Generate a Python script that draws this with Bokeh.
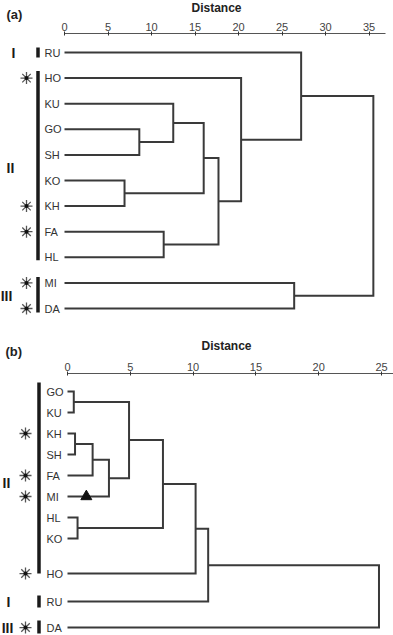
from bokeh.plotting import figure
from bokeh.models import Range1d, LinearAxis, FixedTicker
from bokeh.layouts import column
from bokeh.embed import file_html
from bokeh.resources import INLINE
from bokeh.core.properties import value

# ---------------- data: panel (a) ----------------
leaves_a = ["RU", "HO", "KU", "GO", "SH", "KO", "KH", "FA", "HL", "MI", "DA"]
merge_names_a = ["a1", "a2", "a3", "a4", "a5", "a6", "a7", "a8", "a9", "a10"]
merge_left_a = ["GO", "KO", "FA", "KU", "a4", "a5", "HO", "RU", "MI", "a8"]
merge_right_a = ["SH", "KH", "HL", "a1", "a2", "a3", "a6", "a7", "DA", "a9"]
merge_dist_a = [8.6, 6.9, 11.4, 12.5, 16.0, 17.7, 20.3, 27.2, 26.4, 35.5]
starred_a = ["HO", "KH", "FA", "MI", "DA"]
group_labels_a = ["I", "II", "III"]
group_first_a = ["RU", "HO", "MI"]
group_last_a = ["RU", "HL", "DA"]
ticks_a = [0, 5, 10, 15, 20, 25, 30, 35]

# ---------------- data: panel (b) ----------------
leaves_b = ["GO", "KU", "KH", "SH", "FA", "MI", "HL", "KO", "HO", "RU", "DA"]
merge_names_b = ["b1", "b2", "b3", "b4", "b5", "b6", "b7", "b8", "b9", "b10"]
merge_left_b = ["GO", "KH", "HL", "b2", "b4", "b1", "b6", "b7", "b8", "b9"]
merge_right_b = ["KU", "SH", "KO", "FA", "MI", "b5", "b3", "HO", "RU", "DA"]
merge_dist_b = [0.5, 0.6, 0.8, 2.0, 3.3, 4.9, 7.6, 10.2, 11.2, 24.8]
starred_b = ["KH", "FA", "MI", "HO", "DA"]
triangle_leaf_b = ["MI"]
triangle_dist_b = [1.5]
group_labels_b = ["II", "I", "III"]
group_first_b = ["GO", "RU", "DA"]
group_last_b = ["HO", "RU", "DA"]
ticks_b = [0, 5, 10, 15, 20, 25]

axis_title = "Distance"

# ---------------- layout (window pixel geometry) ----------------
FONT = value("Liberation Sans")
LINE = "#3a3a3a"
TXT = "#333333"
W = 393


def slots_with_gaps(leaves, extra):
    out, pos = [], 0.0
    for i, lf in enumerate(leaves):
        if i > 0:
            pos += 1.0 + extra.get(lf, 0.0)
        out.append(pos)
    return out


def make_panel(tag, leaves, slots, names, lefts, rights, dists, ticks,
               starred, g_labels, g_first, g_last, geo, tri_leaf=(), tri_dist=()):
    top, height = geo["top"], geo["height"]
    slot0, spx, d0, kx = geo["slot0"], geo["spx"], geo["d0"], geo["kx"]
    X = lambda px: (px - d0) / kx
    Y = lambda py: (py - slot0) / spx

    p = figure(width=W, height=height, output_backend="svg", toolbar_location=None,
               x_axis_location=None, y_axis_location=None,
               x_range=Range1d(X(0), X(W)),
               y_range=Range1d(Y(top + height), Y(top)),
               min_border=0)
    p.outline_line_color = None
    p.grid.visible = False
    p.background_fill_color = "white"
    p.border_fill_color = "white"

    ax = LinearAxis(ticker=FixedTicker(ticks=ticks), bounds=(0, X(geo["axis_end"])),
                    fixed_location=Y(geo["axis_y"]))
    ax.major_label_text_font = "Liberation Sans"
    ax.major_label_text_font_size = "11px"
    ax.major_label_text_color = "#444444"
    ax.major_label_standoff = 1
    ax.major_tick_out = 2
    ax.major_tick_in = 2
    ax.minor_tick_line_color = None
    ax.axis_line_color = "#555555"
    ax.major_tick_line_color = "#333333"
    ax.axis_line_width = 1
    p.add_layout(ax, "above")

    # axis title and panel tag as text
    p.text(x=[X(geo["title_x"])], y=[Y(geo["title_y"])], text=[axis_title],
           text_font=FONT, text_font_style="bold", text_font_size="12px",
           text_color="#222222", text_baseline="middle", text_align="center")
    p.text(x=[X(geo["tag_x"])], y=[Y(geo["tag_y"])], text=[tag],
           text_font=FONT, text_font_style="bold", text_font_size="13px",
           text_color="#222222", text_baseline="middle", text_align="left")

    # dendrogram links
    ypos = {lf: s for lf, s in zip(leaves, slots)}
    hpos = {lf: 0.0 for lf in leaves}
    xs, ys = [], []
    for nm, l, r, h in zip(names, lefts, rights, dists):
        xs.append([hpos[l], h, h, hpos[r]])
        ys.append([ypos[l], ypos[l], ypos[r], ypos[r]])
        ypos[nm] = (ypos[l] + ypos[r]) / 2.0
        hpos[nm] = h
    p.multi_line(xs, ys, line_color=LINE, line_width=2, line_join="miter")

    # leaf labels
    p.text(x=[X(geo["lab_x"])] * len(leaves), y=slots, text=leaves,
           text_font=FONT, text_font_size="11px", text_color=TXT,
           text_baseline="middle", text_align="left")

    # group bars and roman numerals
    bx = X(geo["bar_x"])
    for f, l, pt, pb in zip(g_first, g_last, geo["pad_t"], geo["pad_b"]):
        p.segment(x0=[bx], y0=[ypos[f] - pt / spx], x1=[bx], y1=[ypos[l] + pb / spx],
                  line_color="#1a1a1a", line_width=geo["bar_w"], line_cap="butt")
    gy = [(ypos[f] + ypos[l]) / 2 for f, l in zip(g_first, g_last)]
    gx = [X(px) for px in geo["rom_x"]]
    p.text(x=gx, y=gy, text=g_labels,
           text_font=FONT, text_font_style="bold", text_font_size="14px",
           text_color="#1a1a1a", text_baseline="middle", text_align="center")

    # star markers
    sy = [ypos[s] for s in starred]
    sx = [X(geo["star_x"])] * len(starred)
    p.scatter(sx, sy, marker="asterisk", size=12, line_color="#555555", line_width=1.3)
    p.scatter(sx, sy, marker="circle", size=4, fill_color="#111111", line_color=None)

    if tri_leaf:
        p.scatter(list(tri_dist), [ypos[t] for t in tri_leaf], marker="triangle",
                  size=11, fill_color="#111111", line_color="#111111")
    return p


geo_a = dict(top=0, height=330, slot0=52.0, spx=25.6, d0=64.0, kx=8.7,
             axis_y=33, axis_end=385, title_x=216, title_y=7, tag_x=6, tag_y=14,
             lab_x=44, bar_x=37.5, bar_w=3.5, rom_x=[13, 10, 6], star_x=26,
             pad_t=[5, 7, 6], pad_b=[5, 3, 4])
geo_b = dict(top=330, height=305, slot0=391.0, spx=21.0, d0=67.0, kx=12.56,
             axis_y=373, axis_end=393, title_x=226, title_y=345, tag_x=5, tag_y=351,
             lab_x=46, bar_x=38.5, bar_w=3.5, rom_x=[6, 8, 7], star_x=25,
             pad_t=[9, 6, 7], pad_b=[0, 6, 6])

slots_a = slots_with_gaps(leaves_a, {})
slots_b = slots_with_gaps(leaves_b, {"HO": 0.67, "RU": 0.33, "DA": 0.24})

pa = make_panel("(a)", leaves_a, slots_a, merge_names_a, merge_left_a, merge_right_a,
                merge_dist_a, ticks_a, starred_a, group_labels_a, group_first_a,
                group_last_a, geo_a)
pb = make_panel("(b)", leaves_b, slots_b, merge_names_b, merge_left_b, merge_right_b,
                merge_dist_b, ticks_b, starred_b, group_labels_b, group_first_b,
                group_last_b, geo_b, triangle_leaf_b, triangle_dist_b)

layout = column(pa, pb, spacing=0)
open("out.html", "w").write(file_html(layout, INLINE))
